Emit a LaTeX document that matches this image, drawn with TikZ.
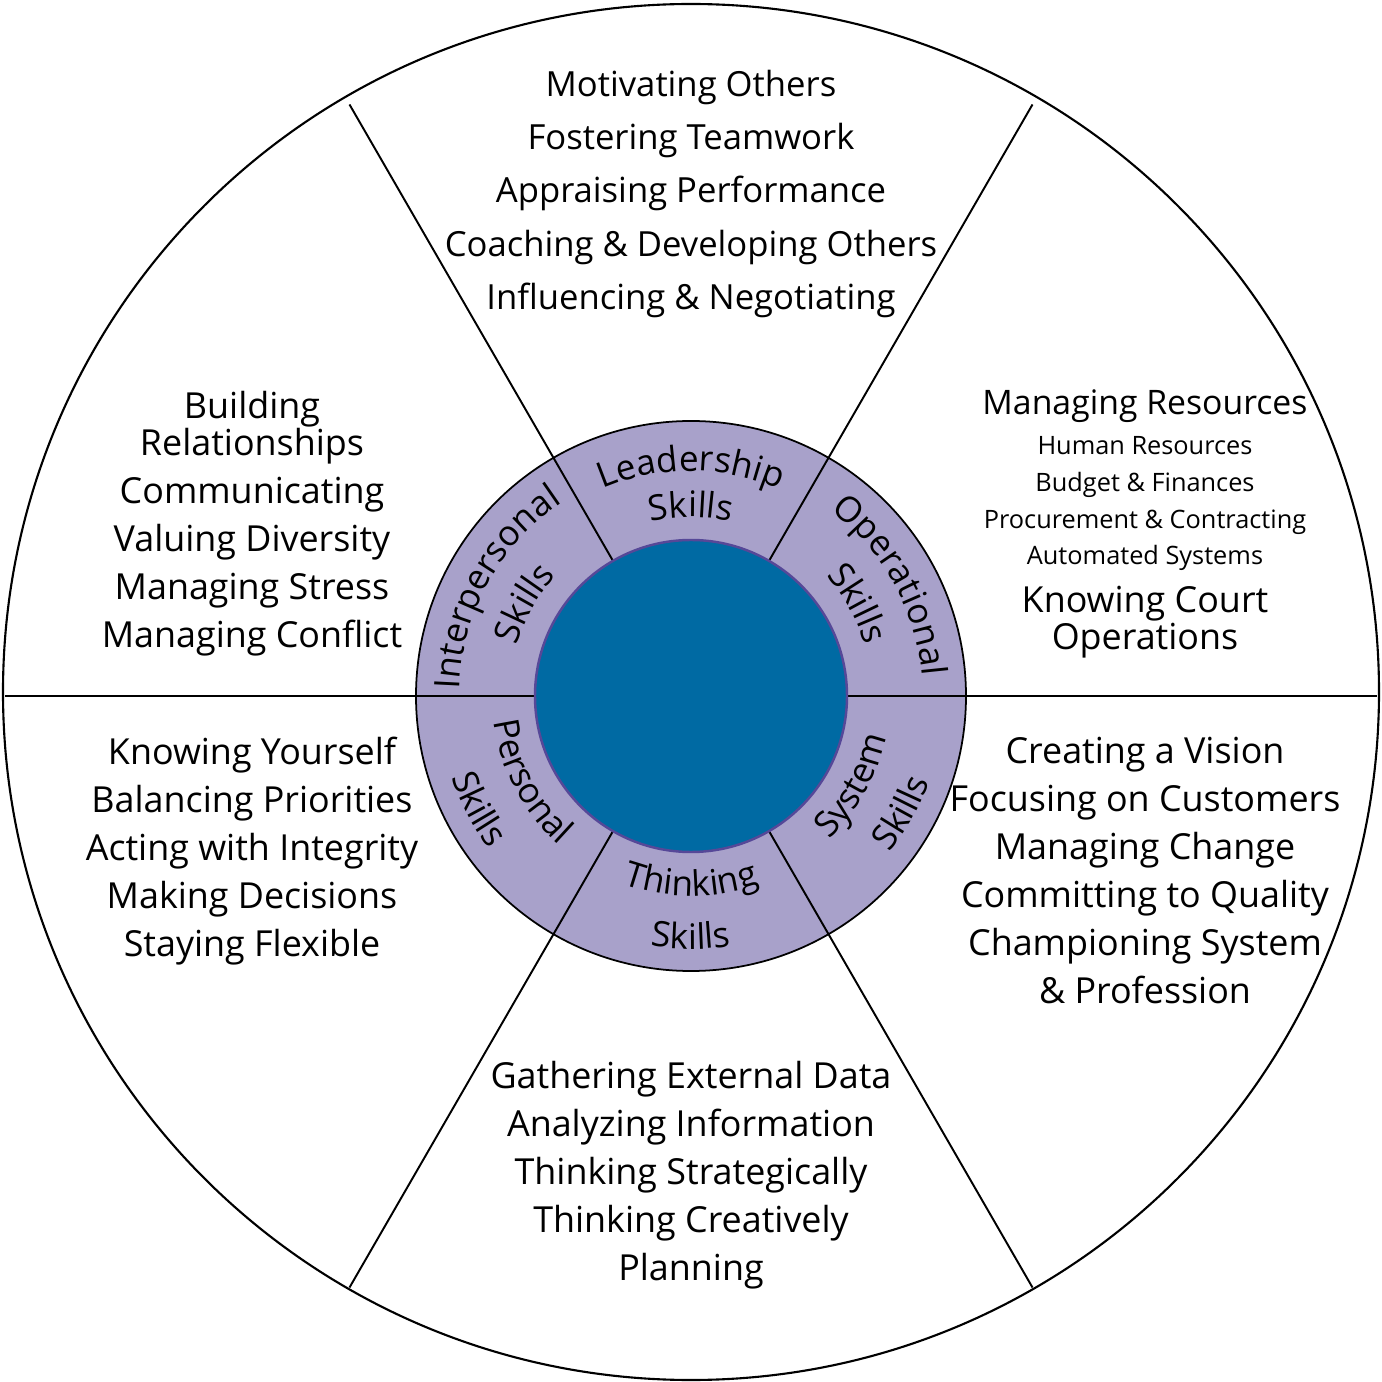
\documentclass[tikz,border=0pt]{standalone}
\usepackage{fontspec}
\setmainfont{Open Sans}
\usetikzlibrary{decorations.text}
\definecolor{ringlilac}{RGB}{168,161,202}
\definecolor{hubblue}{RGB}{0,106,163}
\definecolor{hubedge}{RGB}{86,72,152}
\newcommand{\topfont}{\fontsize{9.85}{15.1}\selectfont}
\newcommand{\itemfont}{\fontsize{10.2}{13.65}\selectfont}
\newcommand{\headfont}{\fontsize{9.6}{10.5}\selectfont}
\newcommand{\subfont}{\fontsize{7.2}{10.5}\selectfont}
\newcommand{\ringfont}{\fontsize{10}{12}\selectfont}
\begin{document}
\begin{tikzpicture}[
  x=0.01cm, y=0.01cm,
  spoke/.style={draw, line width=0.55pt},
  skills/.style={align=center, inner sep=0pt, font=\itemfont},
  ringtext/.style={decorate, decoration={text along path,
                   text align=center, text={|\ringfont|#1}}}
]
\useasboundingbox (-691,-686) rectangle (691,696);
% wheel
\draw[fill=white, line width=0.6pt] (0,4) circle[radius=688];
\draw[fill=ringlilac, line width=0.5pt] (0,0) circle[radius=275];
\foreach \a/\r in {0/686,60/683,120/683,180/686,240/683,300/683}
  \draw[spoke] (\a:150) -- (\a:\r);
\draw[fill=hubblue, draw=hubedge, line width=0.7pt] (0,0) circle[radius=156];
% ring labels, upper half read clockwise
\path[ringtext=Leadership] (150:225) arc[start angle=150, end angle=30, radius=225];
\path[ringtext=Skills] (150:179) arc[start angle=150, end angle=30, radius=179];
\path[ringtext=Interpersonal] (211:232) arc[start angle=211, end angle=91, radius=232];
\path[ringtext=Skills] (211:181) arc[start angle=211, end angle=91, radius=181];
\path[ringtext=Operational] (89:232) arc[start angle=89, end angle=-31, radius=232];
\path[ringtext=Skills] (89:181) arc[start angle=89, end angle=-31, radius=181];
% ring labels, lower half read counterclockwise
\path[ringtext=Personal] (148:199) arc[start angle=148, end angle=268, radius=199];
\path[ringtext=Skills] (148:253) arc[start angle=148, end angle=268, radius=253];
\path[ringtext=Thinking] (210:200) arc[start angle=210, end angle=330, radius=200];
\path[ringtext=Skills] (210:253) arc[start angle=210, end angle=330, radius=253];
\path[ringtext=System] (271:199) arc[start angle=271, end angle=391, radius=199];
\path[ringtext=Skills] (271:253) arc[start angle=271, end angle=391, radius=253];
% competency lists
\node[skills, font=\topfont] (leadership) at (0,502)
  {Motivating Others\\Fostering Teamwork\\Appraising Performance\\
   Coaching \& Developing Others\\Influencing \& Negotiating};
\node[skills] (interpersonal) at (-439,172)
  {Building\\[-3.1pt]Relationships\\Communicating\\Valuing Diversity\\
   Managing Stress\\Managing Conflict};
\node[skills, font=\subfont] (operational) at (454,172)
  {{\headfont Managing Resources}\\[0.7pt]Human Resources\\Budget \& Finances\\
   Procurement \& Contracting\\Automated Systems\\[3pt]
   {\itemfont Knowing Court}\\{\itemfont Operations}};
\node[skills] (personal) at (-439,-155)
  {Knowing Yourself\\Balancing Priorities\\Acting with Integrity\\
   Making Decisions\\Staying Flexible};
\node[skills] (system) at (454,-175)
  {Creating a Vision\\Focusing on Customers\\Managing Change\\
   Committing to Quality\\Championing System\\\& Profession};
\node[skills] (thinking) at (0,-479)
  {Gathering External Data\\Analyzing Information\\Thinking Strategically\\
   Thinking Creatively\\Planning};
\end{tikzpicture}
\end{document}
